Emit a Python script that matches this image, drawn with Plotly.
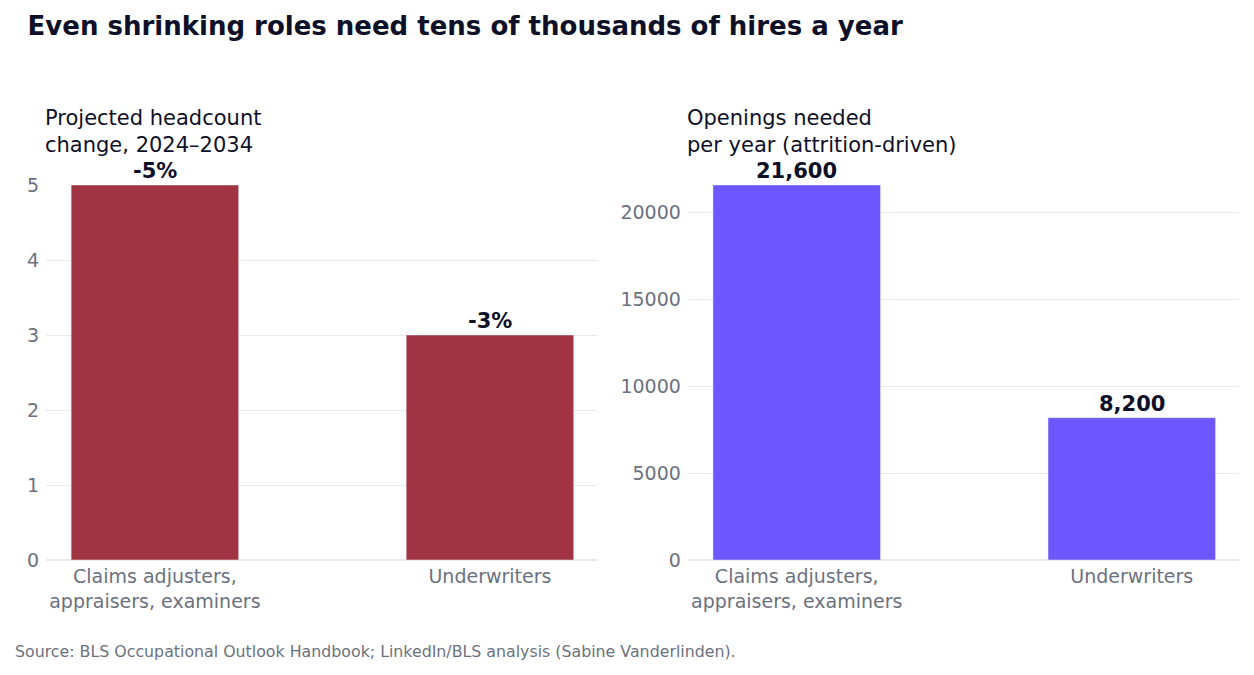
import plotly.graph_objects as go
from plotly.subplots import make_subplots

categories = ["Claims adjusters,<br>appraisers, examiners", "Underwriters"]
headcount_change_pct = [-5, -3]
openings_per_year = [21600, 8200]
left_ticks = [0, 1, 2, 3, 4, 5]
right_ticks = [0, 5000, 10000, 15000, 20000]

TITLE = "Even shrinking roles need tens of thousands of hires a year"
SUB_L = "Projected headcount<br>change, 2024–2034"
SUB_R = "Openings needed<br>per year (attrition-driven)"
SOURCE = "Source: BLS Occupational Outlook Handbook; LinkedIn/BLS analysis (Sabine Vanderlinden)."

FONT = "DejaVu Sans"
DARK = "#0e1028"
GRAY = "#6b7180"
GRID = "#e8e8f0"

fig = make_subplots(rows=1, cols=2, horizontal_spacing=0.076)

left_vals = [abs(v) for v in headcount_change_pct]
left_text = [f"{v}%" for v in headcount_change_pct]
right_text = [f"{v:,}" for v in openings_per_year]

fig.add_trace(go.Bar(
    x=categories, y=left_vals, marker_color="#A03443", width=0.5,
    showlegend=False, hoverinfo="skip",
), row=1, col=1)
fig.add_trace(go.Bar(
    x=categories, y=openings_per_year, marker_color="#6E57FF", width=0.5,
    showlegend=False, hoverinfo="skip",
), row=1, col=2)

label_font = dict(family=FONT, size=21, color=DARK, weight="bold")
for xr, yr, vals, texts in [("x", "y", left_vals, left_text), ("x2", "y2", openings_per_year, right_text)]:
    for c, v, t in zip(categories, vals, texts):
        fig.add_annotation(text=t, x=c, y=v, xref=xr, yref=yr, showarrow=False,
                           xanchor="center", yanchor="bottom", yshift=1, borderpad=0,
                           font=label_font)

axis_font = dict(family=FONT, size=19, color=GRAY)
fig.update_xaxes(tickfont=axis_font, showgrid=False, showline=False, ticks="",
                 range=[-0.325, 1.32], ticklabelstandoff=3)
fig.update_yaxes(tickfont=axis_font, gridcolor=GRID, gridwidth=1, zeroline=True,
                 zerolinecolor=GRID, zerolinewidth=2, showline=False, ticks="",
                 ticklabelstandoff=6)
fig.update_yaxes(range=[0, max(left_vals)], tickvals=left_ticks, row=1, col=1)
fig.update_yaxes(range=[0, max(openings_per_year)], tickvals=right_ticks,
                 tickformat="d", row=1, col=2)

sub_font = dict(family=FONT, size=21, color=DARK)
fig.add_annotation(text=SUB_L, xref="x domain", yref="paper", x=-0.004, y=1.071,
                   xanchor="left", yanchor="bottom", align="left", showarrow=False,
                   borderpad=0, font=sub_font)
fig.add_annotation(text=SUB_R, xref="x2 domain", yref="paper", x=-0.004, y=1.071,
                   xanchor="left", yanchor="bottom", align="left", showarrow=False,
                   borderpad=0, font=sub_font)
fig.add_annotation(text=SOURCE, xref="paper", yref="paper", x=-0.028, y=-0.213,
                   xanchor="left", yanchor="top", align="left", showarrow=False,
                   font=dict(family=FONT, size=15.8, color=GRAY))

fig.update_layout(
    width=1254, height=675,
    title=dict(text=f"<b>{TITLE}</b>", x=0.022, xanchor="left", y=0.962, yanchor="middle",
               font=dict(family=FONT, size=26, color=DARK)),
    margin=dict(l=46, r=15, t=185, b=115),
    plot_bgcolor="white", paper_bgcolor="white",
)

fig.write_html("out.html")
